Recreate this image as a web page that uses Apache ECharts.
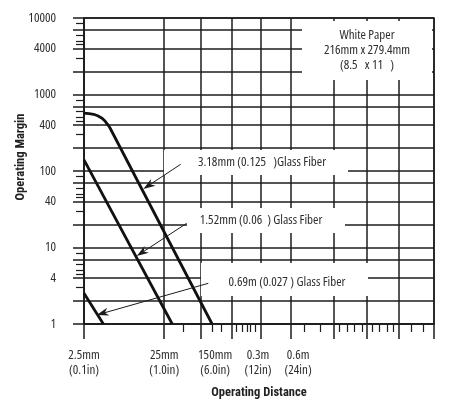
<!DOCTYPE html>
<html><head><meta charset="utf-8">
<script src="https://cdn.jsdelivr.net/npm/echarts@6/dist/echarts.min.js"></script>
<style>html,body{margin:0;padding:0;background:#fff}#c{width:469px;height:407px}</style>
</head><body><div id="c"></div>
<script>
// ---------- data ----------
// Y axis: Operating Margin (log)
const yGridValues = [1,2,4,7,10,20,40,70,100,200,400,700,1000,2000,4000,7000,10000];
const yLabelValues = [1,4,10,40,100,400,1000,4000,10000];
const yMinorTicks = [3,4.5,5,6,8.5,30,45,50,60,85,300,450,500,600,850,3000,4500,5000,6000,8500];
// X axis: Operating Distance in mm (log, calibrated on the 2.5mm and 25mm marks)
const xMin = 2.5, xMax = 58000;
const xGridValues = [2.5,25,72,175,400,960,3300,8400,21000,58000];
const xMinorTicks = [43,100,130,200,235,270,300,340,1400,2200,3800,4800,5800,7400,9900,12000,15000,18000,30000,42000];
const xLabelValues = [2.5,25,108,370,1170];
const xLabelTexts = ['2.5mm\n(0.1in)','25mm\n(1.0in)','150mm\n(6.0in)','0.3m\n(12in)','0.6m\n(24in)'];
// Series: [distance mm, operating margin]
const fiber318 = [[2.5,570],[2.9,564],[3.3,551],[3.7,527],[4.2,489],[4.6,446],[5.0,399],[5.3,362],[99,1]];
const fiber152 = [[2.5,140],[31.5,1]];
const fiber069 = [[2.5,2.52],[4.36,1]];
const seriesNames = ['3.18mm (0.125   )Glass Fiber','1.52mm (0.06  ) Glass Fiber','0.69m (0.027 ) Glass Fiber'];

// ---------- styling ----------
const FONT = "'Open Sans','Roboto Condensed',sans-serif";
const BOLDFONT = "'Roboto Condensed','Open Sans',sans-serif";
const ink = '#1c1c1c';
const txt = '#2e2e2e';

function xLabelFor(v){
  for (let i=0;i<xLabelValues.length;i++){
    if (Math.abs(Math.log(v/xLabelValues[i]))<0.02) return xLabelTexts[i];
  }
  return '';
}

function arrow(sx,sy,tx,ty){
  const dx=tx-sx, dy=ty-sy, len=Math.hypot(dx,dy);
  const ux=dx/len, uy=dy/len, nx=-uy, ny=ux;
  const L=12, W=4;
  const bx=tx-ux*L, by=ty-uy*L;
  const mx=tx-ux*L*0.7, my=ty-uy*L*0.7;
  return [
    {type:'line', z:60, shape:{x1:sx,y1:sy,x2:mx,y2:my}, style:{stroke:ink,lineWidth:1}},
    {type:'polygon', z:60, shape:{points:[[tx,ty],[bx+nx*W,by+ny*W],[mx,my],[bx-nx*W,by-ny*W]]}, style:{fill:ink}}
  ];
}
function box(x,y,w,h){
  return {type:'rect', z:50, shape:{x:x,y:y,width:w,height:h}, style:{fill:'#fff'}};
}
function label(x,y,t){
  return {type:'text', z:55, x:x, y:y, style:{text:t, fill:txt, font:"condensed 13px "+FONT, align:'center', verticalAlign:'middle'}};
}

const chart = echarts.init(document.getElementById('c'), null, {renderer:'canvas'});
const lineStyle = {color:ink, width:1.5};
const labelFont = {fontFamily:FONT, fontStyle:'condensed', fontSize:13, color:txt};
chart.setOption({
  animation:false,
  backgroundColor:'#fff',
  grid:{left:84, right:35, top:18, bottom:83, show:true, borderColor:ink, borderWidth:1.5,
        containLabel:false, outerBoundsMode:'none'},
  xAxis:[{
    type:'log', logBase:10, min:xMin, max:xMax,
    name:'Operating Distance', nameLocation:'middle', nameGap:62, nameMoveOverlap:false,
    nameTextStyle:{fontFamily:BOLDFONT, fontWeight:'bold', fontSize:12.5, color:'#222'},
    axisLine:{show:true, lineStyle:lineStyle},
    axisTick:{show:true, customValues:xGridValues, length:15, lineStyle:lineStyle},
    axisLabel:Object.assign({show:true, customValues:xLabelValues, formatter:xLabelFor, margin:24, lineHeight:15}, labelFont),
    splitLine:{show:true, lineStyle:lineStyle},
    minorTick:{show:false}, minorSplitLine:{show:false}
  },{
    type:'log', logBase:10, min:xMin, max:xMax, position:'bottom',
    axisLine:{show:false}, axisLabel:{show:false}, splitLine:{show:false},
    axisTick:{show:true, customValues:xMinorTicks, length:8, lineStyle:{color:ink,width:1.2}}
  }],
  yAxis:[{
    type:'log', logBase:10, min:1, max:10000,
    name:'Operating Margin', nameLocation:'middle', nameGap:57, nameRotate:90, nameMoveOverlap:false,
    nameTextStyle:{fontFamily:BOLDFONT, fontWeight:'bold', fontSize:12.5, color:'#222', padding:[0,0,0,28]},
    axisLine:{show:true, lineStyle:lineStyle},
    axisTick:{show:true, customValues:yGridValues, length:11, lineStyle:lineStyle},
    axisLabel:Object.assign({show:true, customValues:yLabelValues, formatter:v=>String(Math.round(v)), margin:28}, labelFont),
    splitLine:{show:true, lineStyle:lineStyle},
    minorTick:{show:false}, minorSplitLine:{show:false}
  },{
    type:'log', logBase:10, min:1, max:10000, position:'left',
    axisLine:{show:false}, axisLabel:{show:false}, splitLine:{show:false},
    axisTick:{show:true, customValues:yMinorTicks, length:8, lineStyle:{color:ink,width:1.2}}
  }],
  series:[
    {name:seriesNames[0], type:'line', data:fiber318, symbol:'none', lineStyle:{color:'#111',width:2.8}, z:3},
    {name:seriesNames[1], type:'line', data:fiber152, symbol:'none', lineStyle:{color:'#111',width:2.8}, z:3},
    {name:seriesNames[2], type:'line', data:fiber069, symbol:'none', lineStyle:{color:'#111',width:2.8}, z:3}
  ],
  graphic:[
    box(302,21,130,59),
    label(367,35,'White Paper'), label(367,50,'216mm x 279.4mm'), label(367,65,'(8.5   x 11   )'),
    box(164,150,184,25), label(262,162,seriesNames[0]),
    box(187,208,158,25), label(261,220,seriesNames[1]),
    box(201,263,167,33), label(287,282,seriesNames[2])
  ].concat(arrow(180.7,164.3,143.3,189), arrow(186.7,223.3,136.7,256), arrow(208.3,283.3,96.7,315))
});
</script></body></html>
